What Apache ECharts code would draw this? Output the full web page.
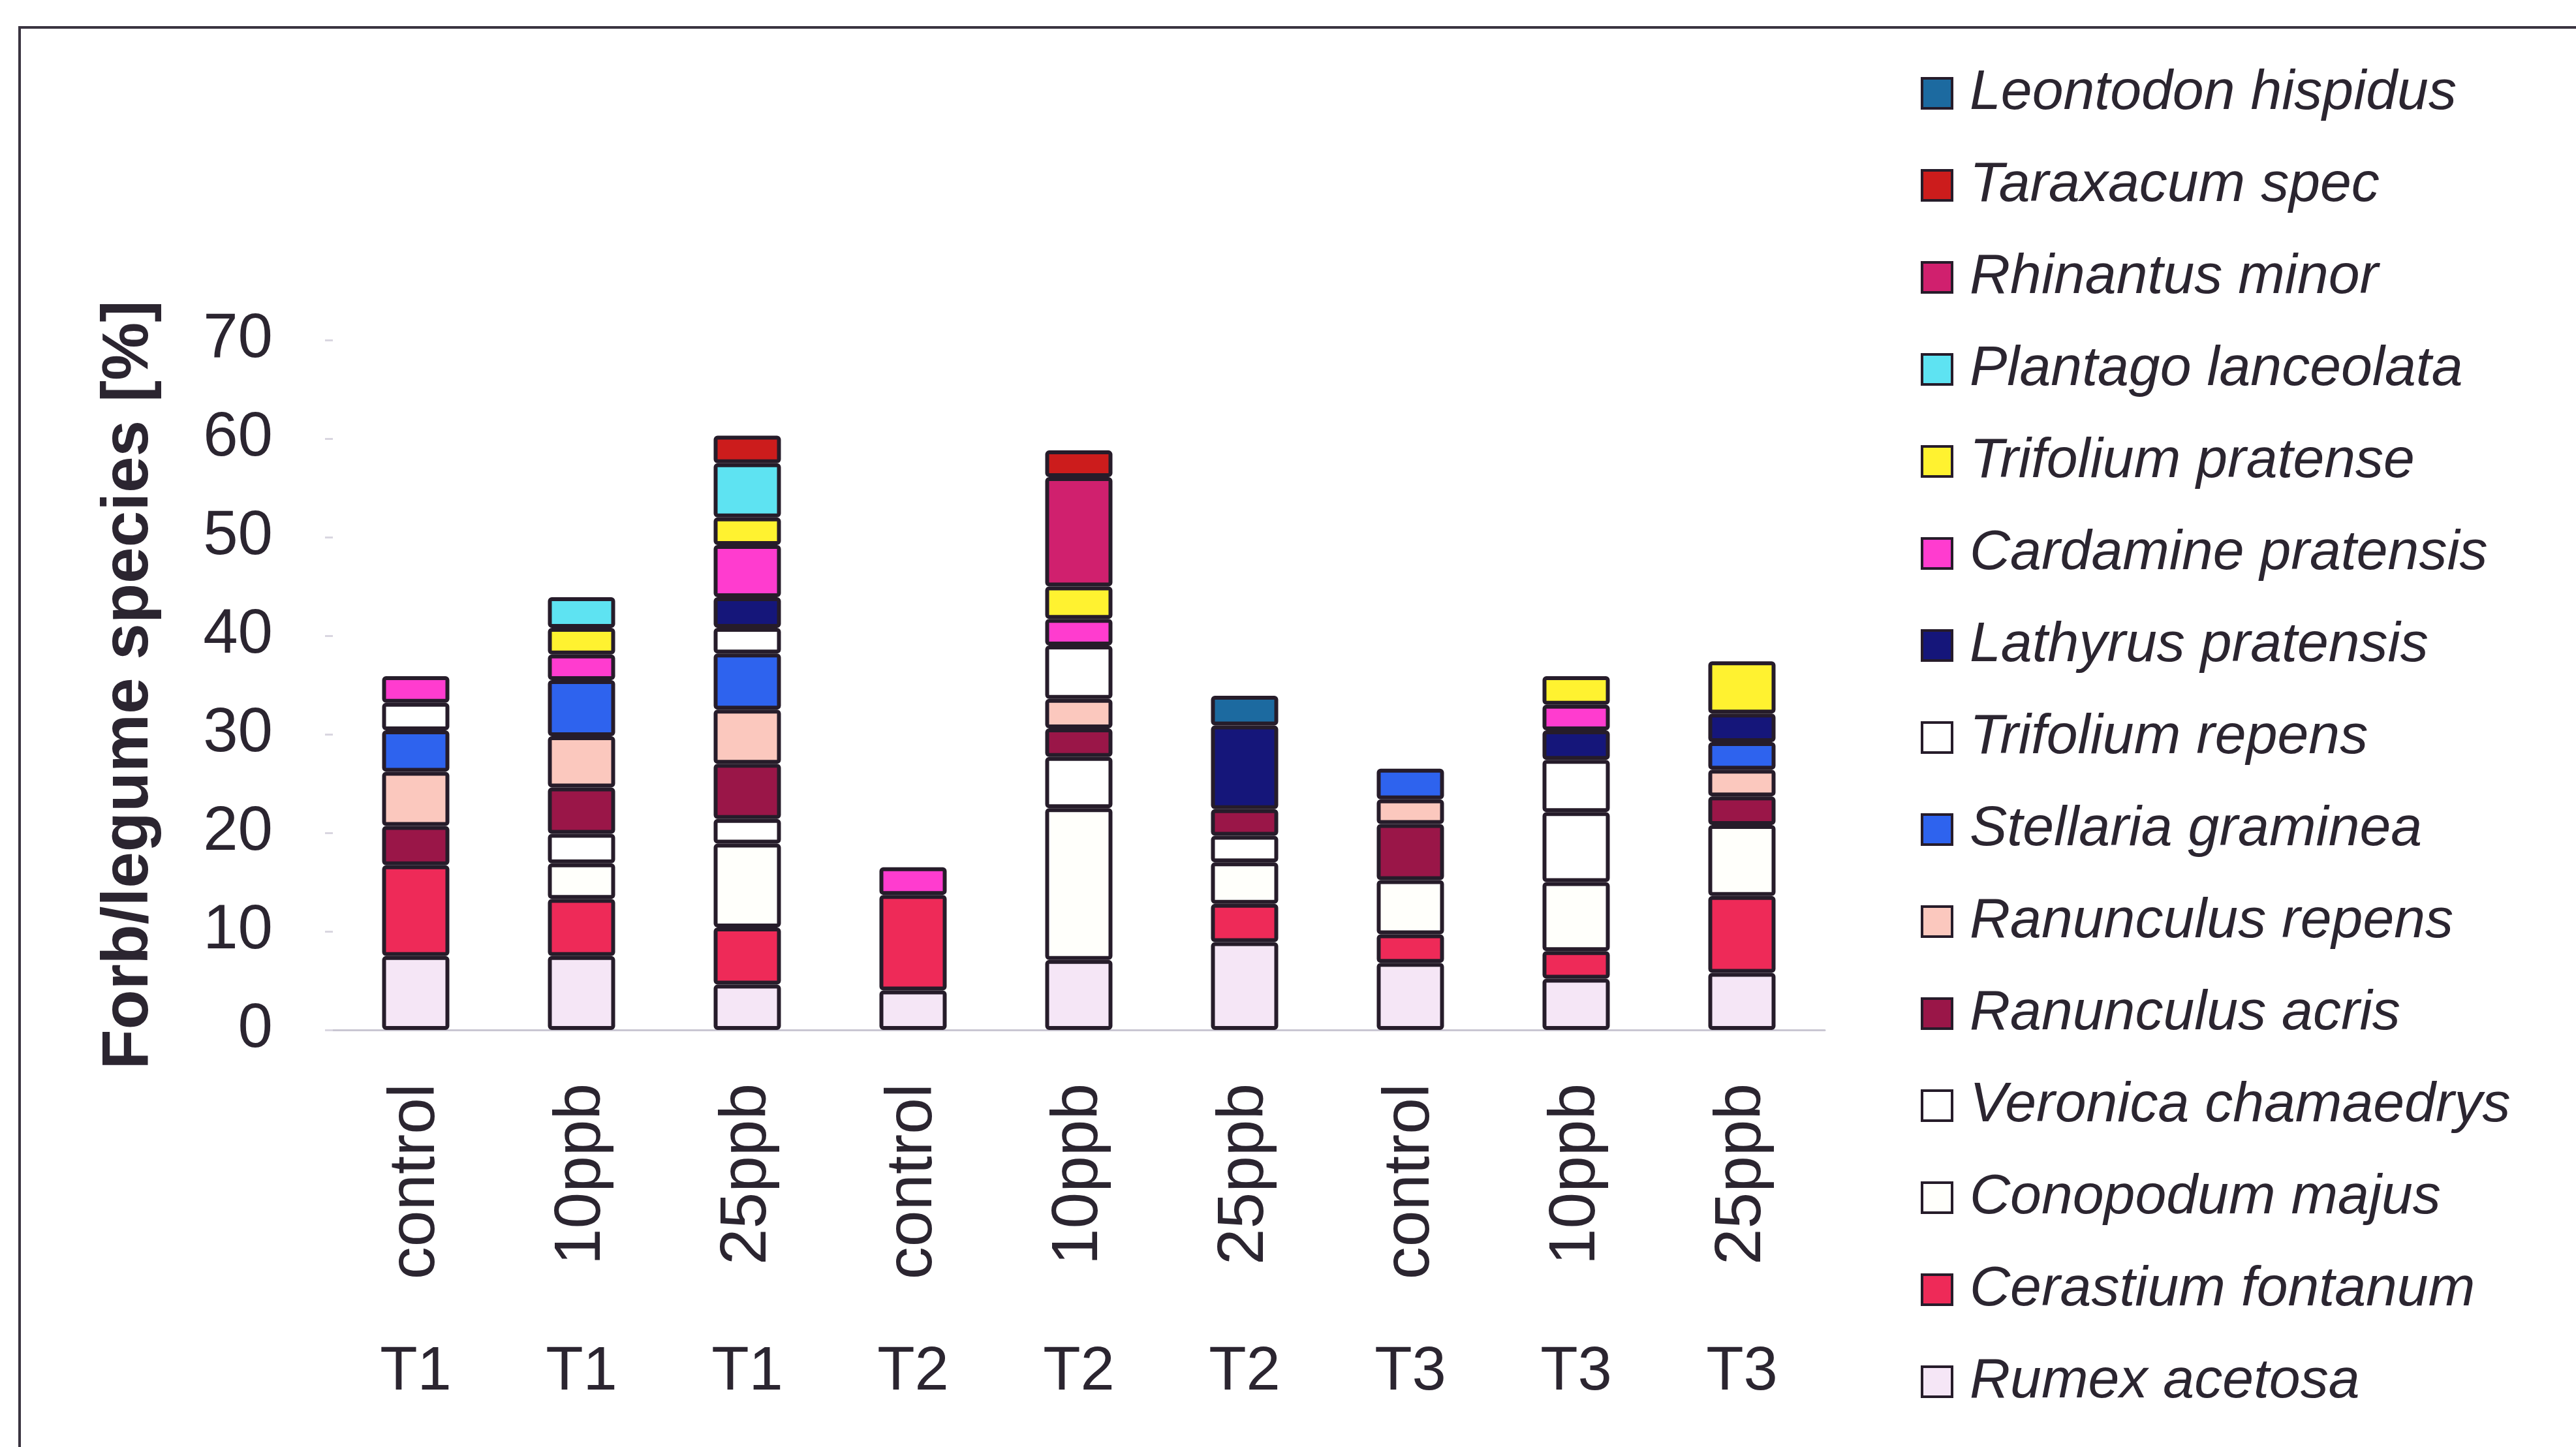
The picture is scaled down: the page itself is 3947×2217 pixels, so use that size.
<!DOCTYPE html>
<html>
<head>
<meta charset="utf-8">
<title>Forb/legume species</title>
<script src="https://cdn.jsdelivr.net/npm/echarts@6/dist/echarts.min.js"></script>
<style>
  html, body { margin: 0; padding: 0; background: #ffffff; }
  #chart { width: 3947px; height: 2217px; }
</style>
</head>
<body>
<div id="chart"></div>
<script>
// Treatment and sampling period for each stacked column
const treatments = ['control', '10ppb', '25ppb', 'control', '10ppb', '25ppb', 'control', '10ppb', '25ppb'];
const periods = ['T1', 'T1', 'T1', 'T2', 'T2', 'T2', 'T3', 'T3', 'T3'];

// Y axis scale (%)
const yMin = 0;
const yMax = 70;
const yStep = 10;

// Species share per column (%), stacked bottom to top
const rumexAcetosa       = [7.5, 7.5, 4.6, 4.0, 7.1, 8.9, 6.8, 5.2, 5.8];
const cerastiumFontanum  = [9.2, 5.8, 5.8, 9.7, 0, 3.9, 2.9, 2.8, 7.8];
const conopodumMajus     = [0, 3.6, 8.5, 0, 15.4, 4.2, 5.5, 7.0, 7.2];
const veronicaChamaedrys = [0, 3.0, 2.5, 0, 5.2, 2.7, 0, 7.1, 0];
const ranunculusAcris    = [4.0, 4.7, 5.6, 0, 2.9, 2.7, 5.7, 0, 2.9];
const ranunculusRepens   = [5.5, 5.2, 5.5, 0, 3.0, 0, 2.5, 0, 2.7];
const stellariaGraminea  = [4.2, 5.7, 5.7, 0, 0, 0, 3.1, 0, 2.8];
const trifoliumRepens    = [2.8, 0, 2.6, 0, 5.4, 0, 0, 5.3, 0];
const lathyrusPratensis  = [0, 0, 3.1, 0, 0, 8.5, 0, 3.0, 2.9];
const cardaminePratensis = [2.7, 2.6, 5.3, 2.8, 2.7, 0, 0, 2.6, 0];
const trifoliumPratense  = [0, 2.7, 2.8, 0, 3.3, 0, 0, 2.9, 5.3];
const plantagoLanceolata = [0, 3.1, 5.5, 0, 0, 0, 0, 0, 0];
const rhinantusMinor     = [0, 0, 0, 0, 11.1, 0, 0, 0, 0];
const taraxacumSpec      = [0, 0, 2.8, 0, 2.7, 0, 0, 0, 0];
const leontodonHispidus  = [0, 0, 0, 0, 0, 3.0, 0, 0, 0];

// Stack order (bottom first), with fill colours
const species = [
  { name: 'Rumex acetosa',       values: rumexAcetosa,       color: '#f5e6f6' },
  { name: 'Cerastium fontanum',  values: cerastiumFontanum,  color: '#ee2a58' },
  { name: 'Conopodum majus',     values: conopodumMajus,     color: '#fffffb' },
  { name: 'Veronica chamaedrys', values: veronicaChamaedrys, color: '#ffffff' },
  { name: 'Ranunculus acris',    values: ranunculusAcris,    color: '#9a1648' },
  { name: 'Ranunculus repens',   values: ranunculusRepens,   color: '#fbc8be' },
  { name: 'Stellaria graminea',  values: stellariaGraminea,  color: '#2e63ee' },
  { name: 'Trifolium repens',    values: trifoliumRepens,    color: '#ffffff' },
  { name: 'Lathyrus pratensis',  values: lathyrusPratensis,  color: '#15167a' },
  { name: 'Cardamine pratensis', values: cardaminePratensis, color: '#ff3ccf' },
  { name: 'Trifolium pratense',  values: trifoliumPratense,  color: '#fff230' },
  { name: 'Plantago lanceolata', values: plantagoLanceolata, color: '#5ee3f2' },
  { name: 'Rhinantus minor',     values: rhinantusMinor,     color: '#d0206e' },
  { name: 'Taraxacum spec',      values: taraxacumSpec,      color: '#cc1c1c' },
  { name: 'Leontodon hispidus',  values: leontodonHispidus,  color: '#1c6aa0' }
];

const textColor = '#2b2530';
const font = "'Liberation Sans', Arial, Helvetica, sans-serif";
const columnKeys = treatments.map((t, i) => periods[i] + '|' + t);

const series = species.map(s => ({
  name: s.name,
  type: 'bar',
  stack: 'total',
  barWidth: 103,
  data: s.values.map(v => (v > 0 ? v : null)),
  itemStyle: {
    color: s.color,
    borderColor: '#261c2a',
    borderWidth: 6,
    borderRadius: 3
  },
  emphasis: { disabled: true }
}));

const chart = echarts.init(document.getElementById('chart'), null, { renderer: 'canvas' });

chart.setOption({
  backgroundColor: '#ffffff',
  animation: false,
  textStyle: { fontFamily: font, color: textColor },
  graphic: [{
    type: 'rect',
    shape: { x: 30, y: 42, width: 4100, height: 2400 },
    style: { fill: 'none', stroke: '#3a3440', lineWidth: 4 },
    silent: true,
    z: 0
  }],
  grid: { left: 510, top: 521, width: 2286, height: 1057, containLabel: false },
  legend: {
    orient: 'vertical',
    left: 2938,
    top: 93,
    itemWidth: 46,
    itemHeight: 46,
    itemGap: 51,
    icon: 'rect',
    data: species.map(s => s.name).reverse(),
    itemStyle: { borderColor: '#261c2a', borderWidth: 4 },
    textStyle: {
      fontFamily: font,
      fontStyle: 'italic',
      fontSize: 86,
      lineHeight: 90,
      color: textColor,
      padding: [0, 0, 0, 22]
    }
  },
  xAxis: [
    {
      type: 'category',
      data: columnKeys,
      position: 'bottom',
      axisLine: { show: true, lineStyle: { color: '#c9c6d2', width: 3 } },
      axisTick: { show: false },
      axisLabel: {
        rotate: 90,
        margin: 82,
        fontSize: 100,
        color: textColor,
        fontFamily: font,
        formatter: v => v.split('|')[1]
      }
    },
    {
      type: 'category',
      data: columnKeys,
      position: 'bottom',
      axisLine: { show: false },
      axisTick: { show: false },
      axisLabel: {
        margin: 478,
        fontSize: 94,
        color: textColor,
        fontFamily: font,
        formatter: v => v.split('|')[0]
      }
    }
  ],
  yAxis: {
    type: 'value',
    min: yMin,
    max: yMax,
    interval: yStep,
    name: 'Forb/legume species [%]',
    nameLocation: 'middle',
    nameGap: 262,
    nameTextStyle: { fontSize: 100, fontWeight: 'bold', color: textColor, fontFamily: font },
    axisLine: { show: false },
    axisTick: { show: true, length: 12, lineStyle: { color: '#d9d6e0', width: 3 } },
    splitLine: { show: false },
    axisLabel: { margin: 92, fontSize: 96, color: textColor, fontFamily: font }
  },
  series: series
});
</script>
</body>
</html>
